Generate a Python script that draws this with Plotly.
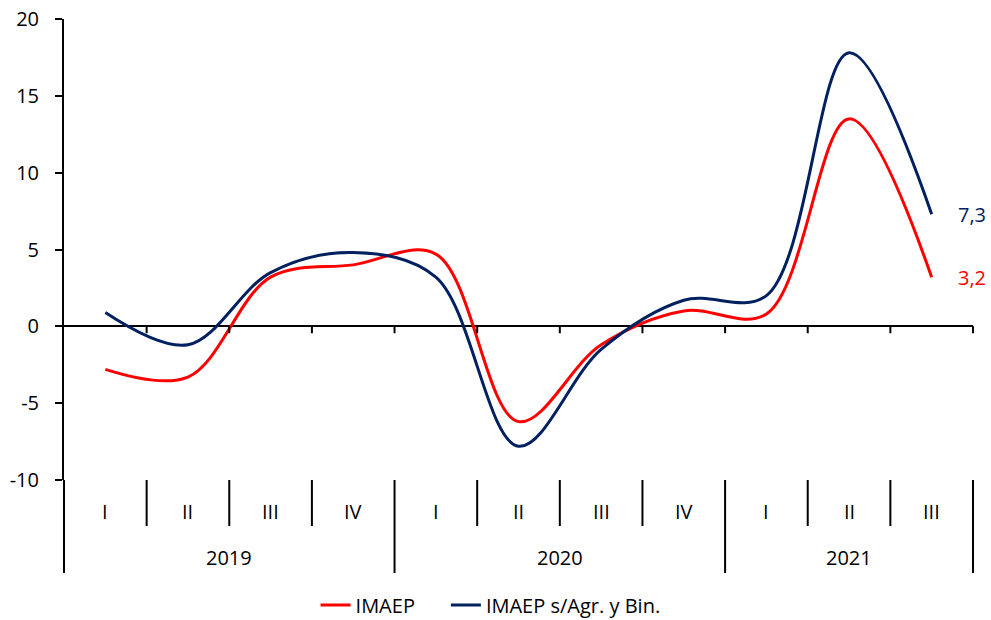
import plotly.graph_objects as go

quarters = ["I", "II", "III", "IV", "I", "II", "III", "IV", "I", "II", "III"]
years = ["2019", "2020", "2021"]
year_quarters = [4, 4, 3]
imaep = [-2.8, -3.3, 3.2, 4.0, 4.7, -6.2, -1.2, 1.0, 0.8, 13.5, 3.2]
imaep_sab = [0.9, -1.2, 3.5, 4.8, 3.2, -7.8, -1.5, 1.7, 2.0, 17.8, 7.3]
y_ticks = [-10, -5, 0, 5, 10, 15, 20]
y_ticktext = ["-10", "-5", "0", "5", "10", "15", "20"]
series_names = ["IMAEP", "IMAEP s/Agr. y Bin."]

RED = "#FF0000"
BLUE = "#002060"
FONT = "Open Sans"
FS = 20
n = len(quarters)
xs = list(range(n))

fig = go.Figure()
fig.add_trace(go.Scatter(x=xs, y=imaep, mode="lines", name=series_names[0] + "\u00a0" * 5,
                         line=dict(color=RED, width=3, shape="spline", smoothing=1.0)))
fig.add_trace(go.Scatter(x=xs, y=imaep_sab, mode="lines", name=series_names[1],
                         line=dict(color=BLUE, width=3, shape="spline", smoothing=1.0)))

shapes = []
annotations = []
# y axis extension into category area
shapes.append(dict(type="line", xref="paper", yref="paper", x0=0, x1=0, y0=0, y1=-0.2017,
                   line=dict(color="black", width=2)))
# ticks on zero line at category boundaries
for i in range(1, n + 1):
    shapes.append(dict(type="line", xref="paper", yref="y", x0=i / n, x1=i / n, y0=0, y1=-0.45,
                       line=dict(color="black", width=2)))
# boundaries in category area
year_bounds = []
c = 0
for k in year_quarters:
    c += k
    year_bounds.append(c)
for i in range(1, n + 1):
    y1 = -0.2017 if i in year_bounds else -0.0998
    shapes.append(dict(type="line", xref="paper", yref="paper", x0=i / n, x1=i / n, y0=0, y1=y1,
                       line=dict(color="black", width=2)))
# quarter labels
for i, q in enumerate(quarters):
    annotations.append(dict(x=i, y=-0.0694, xref="x", yref="paper", text=q, showarrow=False,
                            font=dict(family=FONT, size=FS, color="black"),
                            xanchor="center", yanchor="middle"))
# year labels
start = 0
for yr, k in zip(years, year_quarters):
    annotations.append(dict(x=(start + start + k) / 2 / n, y=-0.169, xref="paper", yref="paper",
                            text=yr, showarrow=False,
                            font=dict(family=FONT, size=FS, color="black"),
                            xanchor="center", yanchor="middle"))
    start += k
# end labels
annotations.append(dict(x=xs[-1], y=imaep_sab[-1], xref="x", yref="y",
                        text=f"{imaep_sab[-1]:.1f}".replace(".", ","), showarrow=False,
                        xanchor="left", yanchor="middle", xshift=24,
                        font=dict(family=FONT, size=FS, color=BLUE)))
annotations.append(dict(x=xs[-1], y=imaep[-1], xref="x", yref="y",
                        text=f"{imaep[-1]:.1f}".replace(".", ","), showarrow=False,
                        xanchor="left", yanchor="middle", xshift=24,
                        font=dict(family=FONT, size=FS, color=RED)))

fig.update_layout(
    width=991, height=620,
    margin=dict(l=64, r=18, t=19, b=140, autoexpand=False),
    paper_bgcolor="white", plot_bgcolor="white",
    font=dict(family=FONT, size=FS, color="black"),
    showlegend=True,
    legend=dict(orientation="h", xref="container", yref="container",
                x=0.495, xanchor="center", y=0.024, yanchor="middle",
                font=dict(family=FONT, size=FS, color="black"),
                tracegroupgap=0),
    xaxis=dict(range=[-0.5, n - 0.5], showticklabels=False, showgrid=False, zeroline=False,
               showline=False, ticks="", automargin=False),
    yaxis=dict(range=[-10, 20], tickvals=y_ticks, ticktext=y_ticktext, showgrid=False,
               zeroline=True, zerolinecolor="black", zerolinewidth=2,
               showline=True, linecolor="black", linewidth=2,
               ticks="outside", ticklen=7, tickwidth=2, tickcolor="black", automargin=False,
               ticklabelstandoff=12, tickfont=dict(family=FONT, size=FS, color="black")),
    shapes=shapes, annotations=annotations,
)

fig.write_html("out.html", config={"displayModeBar": False},
               post_script="document.body.style.margin='0px';")
